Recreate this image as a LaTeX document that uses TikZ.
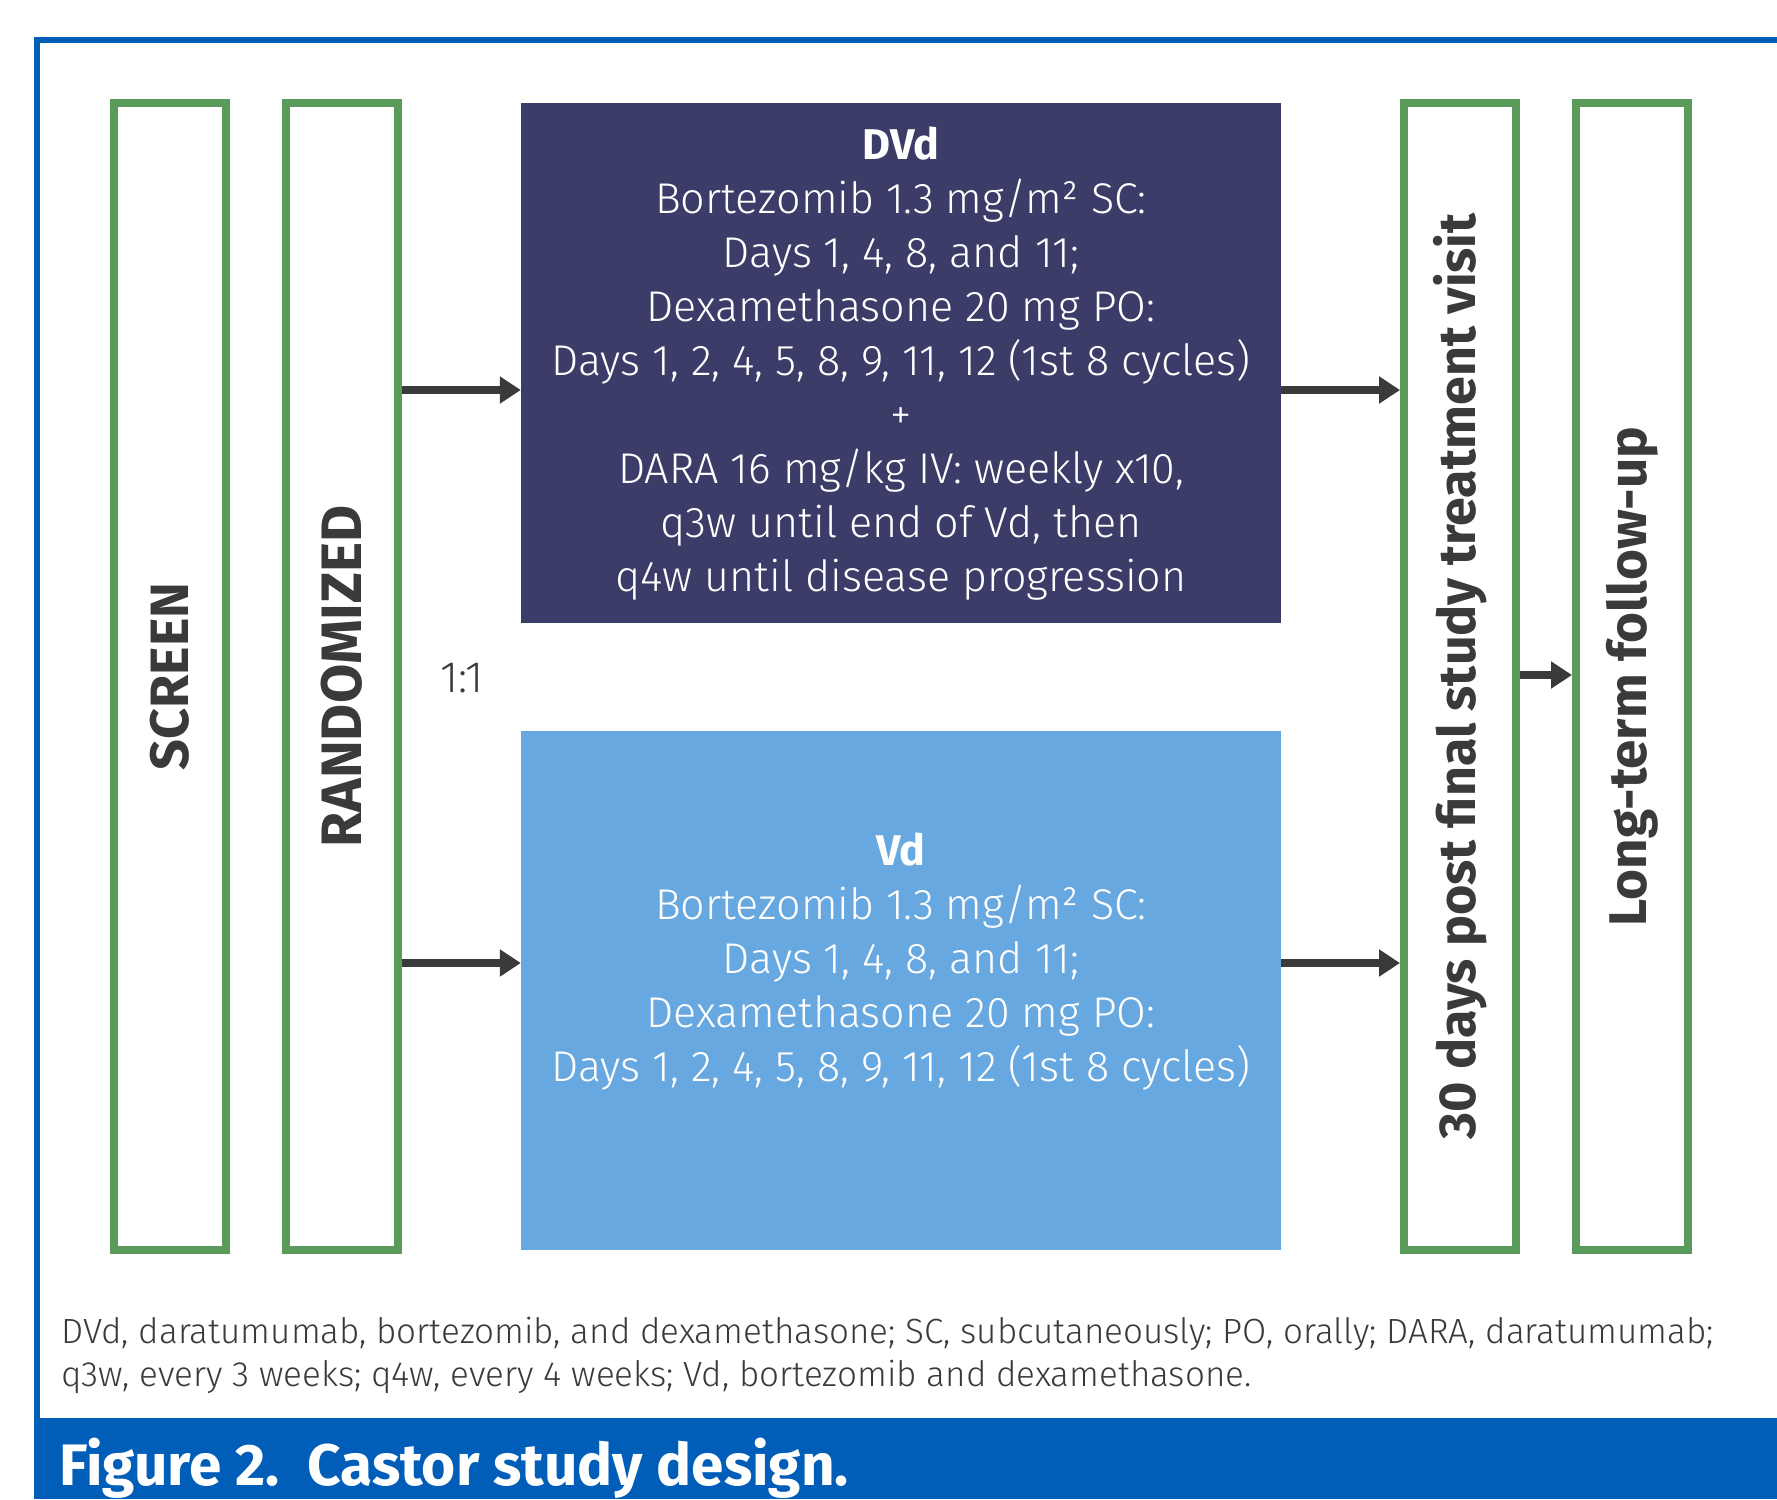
\documentclass[tikz,border=0pt]{standalone}
\usepackage{fontspec}
\setmainfont{Fira Sans}[UprightFont=* Light, BoldFont=* Bold]
\usetikzlibrary{arrows.meta}
\definecolor{frameblue}{HTML}{005EB8}
\definecolor{phasegreen}{HTML}{5A9A5A}
\definecolor{armnavy}{HTML}{3C3C69}
\definecolor{armsky}{HTML}{68A8E0}
\definecolor{ink}{HTML}{3A3A3A}
\begin{document}
\begin{tikzpicture}[x=1pt,y=-1pt,
  phase/.style={draw=phasegreen, line width=8pt, minimum width=112pt,
    minimum height=1147pt, inner sep=0pt},
  phaselabel/.style={rotate=90, text=ink, inner sep=0pt,
    font=\fontsize{52}{60}\selectfont\bfseries},
  arm/.style={minimum width=760pt, minimum height=520pt, inner sep=0pt},
  armtext/.style={text=white, align=center, inner sep=0pt,
    font=\fontsize{43}{54}\selectfont},
  flow/.style={draw=ink, line width=8pt,
    -{Triangle[length=21pt, width=26pt]}},
  foot/.style={anchor=base west, text=ink, inner sep=0pt,
    font=\fontsize{35}{43}\selectfont}]
\useasboundingbox (0,0) rectangle (1777,1499);

% outer frame and caption banner
\draw[frameblue, line width=6pt] (37,1418) -- (37,40) -- (1777,40);
\fill[frameblue] (34,1418) rectangle (1777,1499);
\node[anchor=base west, text=white, inner sep=0pt,
  font=\fontsize{58.5}{64}\selectfont\bfseries] (title) at (59,1485)
  {Figure 2.\ \ Castor study design.};

% study phases
\node[phase] (screen) at (170,676.5) {};
\node[phase] (rand) at (342,676.5) {};
\node[phase] (visit) at (1460,676.5) {};
\node[phase] (follow) at (1632,676.5) {};
\node[phaselabel, font=\fontsize{54}{60}\selectfont\bfseries] (screenlbl) at (screen.center) {SCREEN};
\node[phaselabel, font=\fontsize{57}{60}\selectfont\bfseries] (randlbl) at (rand.center) {RANDOMIZED};
\node[phaselabel] (visitlbl) at (visit.center) {30 days post final study treatment visit};
\node[phaselabel, font=\fontsize{53}{60}\selectfont\bfseries] (followlbl) at (follow.center) {Long-term follow-up};

% treatment arms
\node[arm, fill=armnavy] (dvd) at (901,363) {};
\node[arm, fill=armsky, minimum height=519pt] (vd) at (901,990.5) {};
\node[armtext] (dvdtext) at (901,364) {\textbf{DVd}\\
  Bortezomib 1.3 mg/m² SC:\\
  Days 1, 4, 8, and 11;\\
  Dexamethasone 20 mg PO:\\
  Days 1, 2, 4, 5, 8, 9, 11, 12 (1st 8 cycles)\\
  +\\
  DARA 16 mg/kg IV: weekly x10,\\
  q3w until end of Vd, then\\
  q4w until disease progression};
\node[armtext] (vdtext) at (901,962) {\textbf{Vd}\\
  Bortezomib 1.3 mg/m² SC:\\
  Days 1, 4, 8, and 11;\\
  Dexamethasone 20 mg PO:\\
  Days 1, 2, 4, 5, 8, 9, 11, 12 (1st 8 cycles)};

\node[text=ink, inner sep=0pt, font=\fontsize{44}{48}\selectfont] (ratio) at (462,678) {1:1};

% connectors
\coordinate (upper) at (0,390);
\coordinate (lower) at (0,963);
\draw[flow] (rand.east |- upper) -- (dvd.west |- upper);
\draw[flow] (rand.east |- lower) -- (vd.west |- lower);
\draw[flow] (dvd.east |- upper) -- (visit.west |- upper);
\draw[flow] (vd.east |- lower) -- (visit.west |- lower);
\draw[flow] (visit.east |- 0,675) -- (follow.west |- 0,675);

% abbreviations
\node[foot] (foot1) at (61,1343) {DVd, daratumumab, bortezomib, and dexamethasone; SC, subcutaneously; PO, orally; DARA, daratumumab;};
\node[foot] (foot2) at (61,1386) {q3w, every 3 weeks; q4w, every 4 weeks; Vd, bortezomib and dexamethasone.};
\end{tikzpicture}
\end{document}
